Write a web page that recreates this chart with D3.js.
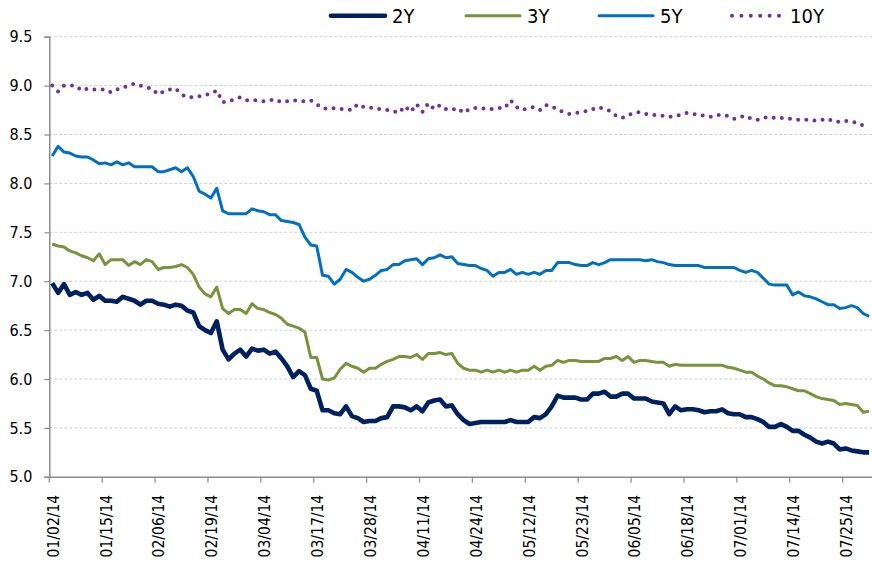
<!DOCTYPE html>
<html>
<head>
<meta charset="utf-8">
<script src="https://cdn.jsdelivr.net/npm/d3@7"></script>
<style>
	body { margin: 0; background: #fff; }
	text { font-family: "Liberation Sans Narrow", "DejaVu Sans Condensed", sans-serif; fill: #000; }
</style>
</head>
<body>
<svg></svg>
<script>
/* 数据 */
const dates = [
	'01/02/14', '01/03/14', '01/06/14', '01/07/14', '01/08/14', '01/09/14', '01/10/14', '01/13/14', '01/14/14',
	'01/15/14', '01/16/14', '01/17/14', '01/20/14', '01/21/14', '01/22/14', '01/23/14', '01/24/14', '01/27/14',
	'02/06/14', '02/07/14', '02/10/14', '02/11/14', '02/12/14', '02/13/14', '02/14/14', '02/17/14', '02/18/14',
	'02/19/14', '02/20/14', '02/21/14', '02/24/14', '02/25/14', '02/26/14', '02/27/14', '02/28/14', '03/03/14',
	'03/04/14', '03/05/14', '03/06/14', '03/07/14', '03/10/14', '03/11/14', '03/12/14', '03/13/14', '03/14/14',
	'03/17/14', '03/18/14', '03/19/14', '03/20/14', '03/21/14', '03/24/14', '03/25/14', '03/26/14', '03/27/14',
	'03/28/14', '03/31/14', '04/01/14', '04/02/14', '04/03/14', '04/04/14', '04/07/14', '04/08/14', '04/10/14',
	'04/11/14', '04/14/14', '04/15/14', '04/16/14', '04/17/14', '04/18/14', '04/21/14', '04/22/14', '04/23/14',
	'04/24/14', '04/25/14', '04/28/14', '04/29/14', '05/05/14', '05/06/14', '05/07/14', '05/08/14', '05/09/14',
	'05/12/14', '05/13/14', '05/14/14', '05/15/14', '05/16/14', '05/19/14', '05/20/14', '05/21/14', '05/22/14',
	'05/23/14', '05/26/14', '05/27/14', '05/28/14', '05/29/14', '05/30/14', '06/02/14', '06/03/14', '06/04/14',
	'06/05/14', '06/06/14', '06/09/14', '06/10/14', '06/11/14', '06/12/14', '06/13/14', '06/16/14', '06/17/14',
	'06/18/14', '06/19/14', '06/20/14', '06/23/14', '06/24/14', '06/25/14', '06/26/14', '06/27/14', '06/30/14',
	'07/01/14', '07/02/14', '07/03/14', '07/04/14', '07/07/14', '07/08/14', '07/09/14', '07/10/14', '07/11/14',
	'07/14/14', '07/15/14', '07/16/14', '07/17/14', '07/18/14', '07/21/14', '07/22/14', '07/23/14', '07/24/14',
	'07/25/14', '07/28/14', '07/29/14', '07/30/14', '07/31/14'
];

const y2 = [
	6.98, 6.88, 6.97, 6.86, 6.89, 6.86, 6.88, 6.81, 6.85, 6.80,
	6.80, 6.79, 6.84, 6.82, 6.80, 6.76, 6.80, 6.80, 6.77, 6.76,
	6.74, 6.76, 6.75, 6.70, 6.68, 6.54, 6.50, 6.47, 6.59, 6.30,
	6.20, 6.26, 6.30, 6.23, 6.31, 6.29, 6.30, 6.26, 6.28, 6.21,
	6.13, 6.02, 6.08, 6.04, 5.90, 5.88, 5.68, 5.68, 5.65, 5.64,
	5.72, 5.62, 5.60, 5.56, 5.57, 5.57, 5.60, 5.61, 5.72, 5.72,
	5.71, 5.68, 5.72, 5.67, 5.76, 5.78, 5.79, 5.72, 5.73, 5.64,
	5.58, 5.54, 5.55, 5.56, 5.56, 5.56, 5.56, 5.56, 5.58, 5.56,
	5.56, 5.56, 5.61, 5.60, 5.64, 5.72, 5.83, 5.81, 5.81, 5.81,
	5.79, 5.79, 5.85, 5.85, 5.87, 5.82, 5.82, 5.85, 5.85, 5.80,
	5.80, 5.80, 5.77, 5.76, 5.75, 5.64, 5.72, 5.68, 5.69, 5.69,
	5.68, 5.66, 5.67, 5.67, 5.69, 5.65, 5.64, 5.64, 5.61, 5.61,
	5.59, 5.56, 5.51, 5.51, 5.54, 5.51, 5.47, 5.47, 5.43, 5.40,
	5.36, 5.34, 5.36, 5.34, 5.28, 5.29, 5.27, 5.26, 5.25, 5.25
];

const y3 = [
	7.38, 7.36, 7.35, 7.31, 7.29, 7.26, 7.24, 7.21, 7.28, 7.17,
	7.22, 7.22, 7.22, 7.16, 7.20, 7.17, 7.22, 7.20, 7.12, 7.14,
	7.14, 7.15, 7.17, 7.14, 7.07, 6.94, 6.87, 6.84, 6.94, 6.72,
	6.67, 6.71, 6.71, 6.67, 6.77, 6.72, 6.71, 6.68, 6.66, 6.62,
	6.56, 6.54, 6.52, 6.48, 6.22, 6.22, 6.00, 5.99, 6.01, 6.10,
	6.16, 6.13, 6.11, 6.07, 6.11, 6.11, 6.15, 6.18, 6.20, 6.23,
	6.23, 6.22, 6.25, 6.20, 6.26, 6.26, 6.27, 6.25, 6.26, 6.16,
	6.11, 6.09, 6.09, 6.07, 6.09, 6.07, 6.09, 6.07, 6.09, 6.07,
	6.09, 6.09, 6.13, 6.09, 6.13, 6.14, 6.19, 6.17, 6.19, 6.19,
	6.18, 6.18, 6.18, 6.18, 6.21, 6.21, 6.23, 6.19, 6.23, 6.17,
	6.19, 6.19, 6.18, 6.17, 6.17, 6.13, 6.15, 6.14, 6.14, 6.14,
	6.14, 6.14, 6.14, 6.14, 6.14, 6.12, 6.11, 6.09, 6.07, 6.07,
	6.03, 6.00, 5.96, 5.93, 5.93, 5.92, 5.90, 5.88, 5.88, 5.85,
	5.82, 5.80, 5.79, 5.78, 5.74, 5.75, 5.74, 5.73, 5.66, 5.67
];

const y5 = [
	8.28, 8.38, 8.32, 8.31, 8.28, 8.27, 8.27, 8.24, 8.20, 8.21,
	8.19, 8.22, 8.19, 8.21, 8.17, 8.17, 8.17, 8.17, 8.12, 8.12,
	8.14, 8.16, 8.12, 8.16, 8.07, 7.92, 7.89, 7.85, 7.95, 7.72,
	7.69, 7.69, 7.69, 7.69, 7.74, 7.72, 7.71, 7.68, 7.68, 7.62,
	7.61, 7.60, 7.58, 7.45, 7.37, 7.36, 7.06, 7.05, 6.97, 7.02,
	7.12, 7.09, 7.04, 7.00, 7.02, 7.06, 7.11, 7.12, 7.17, 7.17,
	7.21, 7.22, 7.23, 7.17, 7.23, 7.24, 7.27, 7.24, 7.25, 7.18,
	7.17, 7.16, 7.16, 7.13, 7.11, 7.05, 7.09, 7.09, 7.12, 7.07,
	7.09, 7.07, 7.09, 7.07, 7.11, 7.11, 7.19, 7.19, 7.19, 7.17,
	7.16, 7.16, 7.19, 7.17, 7.19, 7.22, 7.22, 7.22, 7.22, 7.22,
	7.22, 7.21, 7.22, 7.20, 7.19, 7.17, 7.16, 7.16, 7.16, 7.16,
	7.16, 7.14, 7.14, 7.14, 7.14, 7.14, 7.14, 7.11, 7.09, 7.11,
	7.09, 7.03, 6.97, 6.96, 6.96, 6.96, 6.86, 6.89, 6.85, 6.84,
	6.82, 6.79, 6.76, 6.76, 6.72, 6.73, 6.75, 6.73, 6.67, 6.64
];

const y10 = [
	9.00, 8.94, 9.00, 9.00, 9.00, 8.95, 8.97, 8.96, 8.96, 8.96,
	8.93, 8.96, 8.98, 9.00, 9.02, 9.00, 8.98, 8.97, 8.91, 8.94,
	8.96, 8.97, 8.91, 8.88, 8.88, 8.89, 8.90, 8.92, 8.95, 8.83,
	8.84, 8.86, 8.88, 8.85, 8.85, 8.85, 8.84, 8.85, 8.86, 8.83,
	8.84, 8.85, 8.84, 8.84, 8.85, 8.81, 8.77, 8.76, 8.77, 8.76,
	8.76, 8.75, 8.81, 8.78, 8.78, 8.76, 8.76, 8.75, 8.74, 8.72,
	8.79, 8.73, 8.81, 8.73, 8.82, 8.76, 8.80, 8.76, 8.75, 8.77,
	8.72, 8.76, 8.77, 8.77, 8.76, 8.76, 8.77, 8.77, 8.85, 8.78,
	8.75, 8.77, 8.78, 8.75, 8.80, 8.79, 8.75, 8.73, 8.71, 8.72,
	8.73, 8.74, 8.76, 8.78, 8.76, 8.74, 8.69, 8.67, 8.70, 8.72,
	8.73, 8.71, 8.70, 8.70, 8.69, 8.68, 8.69, 8.70, 8.72, 8.71,
	8.70, 8.69, 8.68, 8.70, 8.70, 8.69, 8.66, 8.68, 8.69, 8.66,
	8.65, 8.67, 8.68, 8.67, 8.67, 8.66, 8.66, 8.65, 8.65, 8.65,
	8.64, 8.65, 8.66, 8.63, 8.63, 8.64, 8.63, 8.62, 8.59, 8.57
];

const yTicks = [5.0, 5.5, 6.0, 6.5, 7.0, 7.5, 8.0, 8.5, 9.0, 9.5];
const labelEvery = 9;

/* 系列样式 */
const series = [
	{name: '2Y', values: y2, color: '#002060', width: 4.6, dash: null, legendX: 331},
	{name: '3Y', values: y3, color: '#77933C', width: 3, dash: null, legendX: 466},
	{name: '5Y', values: y5, color: '#0070C0', width: 3, dash: null, legendX: 599},
	{name: '10Y', values: y10, color: '#7030A0', width: 4, dash: '0,8.2', legendX: 732}
];

/* 常参数定义 */
const svgWidth = 872;
const svgHeight = 567;
const plot = {'L': 49.3, 'R': 872, 'T': 36.7, 'B': 476.8};

const svg = d3.select('svg')
	.attr('width', svgWidth)
	.attr('height', svgHeight);

const x = d3.scaleBand()
	.domain(dates)
	.range([plot.L, plot.R]);
const y = d3.scaleLinear()
	.domain([5, 9.5])
	.range([plot.B, plot.T]);
const cx = (d) => x(d) + x.bandwidth() / 2;

/* 网格线 */
svg.append('g')
	.selectAll('line')
	.data(yTicks.slice(1))
	.enter().append('line')
	.attr('x1', plot.L)
	.attr('x2', plot.R)
	.attr('y1', (d) => y(d))
	.attr('y2', (d) => y(d))
	.attr('stroke', '#cfcfcf')
	.attr('stroke-width', 1)
	.attr('stroke-dasharray', '3,2');

/* y轴 */
const yAxis = svg.append('g')
	.attr('transform', `translate(${plot.L},0)`)
	.call(d3.axisLeft(y).tickValues(yTicks).tickFormat(d3.format('.1f')).tickSize(5).tickPadding(12));
yAxis.select('.domain').attr('stroke', '#8c8c8c').attr('stroke-width', 1.5);
yAxis.selectAll('.tick line').attr('stroke', '#8c8c8c').attr('stroke-width', 1.2);
yAxis.selectAll('.tick text').style('font-size', '16px').attr('fill', '#000');

/* x轴 */
const xAxis = svg.append('g')
	.attr('transform', `translate(0,${plot.B})`)
	.call(d3.axisBottom(x).tickValues([]).tickSizeOuter(0));
xAxis.select('.domain').attr('stroke', '#8c8c8c').attr('stroke-width', 1.5);
const labelDates = dates.filter((d, i) => i % labelEvery === 0);
xAxis.append('g')
	.selectAll('line')
	.data(labelDates)
	.enter().append('line')
	.attr('x1', (d) => x(d))
	.attr('x2', (d) => x(d))
	.attr('y1', 0)
	.attr('y2', 6)
	.attr('stroke', '#8c8c8c')
	.attr('stroke-width', 1.2);
xAxis.append('g')
	.selectAll('text')
	.data(labelDates)
	.enter().append('text')
	.attr('transform', (d) => `translate(${cx(d) + 1},18) rotate(-90)`)
	.attr('text-anchor', 'end')
	.attr('dy', '0.35em')
	.style('font-size', '15.5px')
	.text((d) => d);

/* 折线 */
const line = d3.line()
	.x((d, i) => cx(dates[i]))
	.y((d) => y(d));
svg.append('g')
	.selectAll('path')
	.data(series)
	.enter().append('path')
	.attr('d', (s) => line(s.values))
	.attr('fill', 'none')
	.attr('stroke', (s) => s.color)
	.attr('stroke-width', (s) => s.width)
	.attr('stroke-linejoin', 'round')
	.attr('stroke-linecap', (s) => s.dash ? 'round' : 'butt')
	.attr('stroke-dasharray', (s) => s.dash);

/* 图例 */
const legend = svg.append('g')
	.selectAll('g')
	.data(series)
	.enter().append('g')
	.attr('transform', (s) => `translate(${s.legendX},15.7)`);
legend.append('line')
	.attr('x1', 0)
	.attr('x2', (s) => s.dash ? 49 : 54)
	.attr('stroke', (s) => s.color)
	.attr('stroke-width', (s) => s.width)
	.attr('stroke-linecap', 'round')
	.attr('stroke-dasharray', (s) => s.dash ? '0,9.4' : null);
legend.append('text')
	.attr('x', (s) => s.dash ? 58 : 61)
	.attr('dy', '0.36em')
	.style('font-size', '20px')
	.text((s) => s.name);
</script>
</body>
</html>
